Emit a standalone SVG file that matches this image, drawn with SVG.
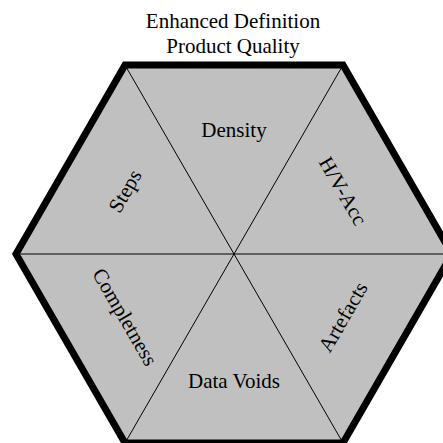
<svg xmlns="http://www.w3.org/2000/svg" width="443" height="443" viewBox="0 0 443 443">
<style>
.t{font-family:"Liberation Serif","Times New Roman",serif;font-size:21px;fill:#000;text-anchor:middle}
.c{dominant-baseline:central}
.div{stroke:#000;stroke-width:1;fill:none}
</style>
<rect width="443" height="443" fill="#fff"/>
<g id="title">
<text class="t" x="233" y="28">Enhanced Definition</text>
<text class="t" x="233" y="53">Product Quality</text>
</g>
<g id="hexagon-fill">
<polygon points="125,65 343,65 452,254 343,443 125,443 16,254" fill="#C0C0C0"/>
</g>
<g id="connectors">
<line class="div" x1="16" y1="254" x2="452" y2="254"/>
<line class="div" x1="125" y1="65" x2="343" y2="443"/>
<line class="div" x1="343" y1="65" x2="125" y2="443"/>
</g>
<g id="hexagon-border">
<polygon points="125,65 343,65 452,254 343,443 125,443 16,254" fill="none" stroke="#000" stroke-width="7" stroke-linejoin="miter"/>
</g>
<g id="density"><text class="t c" x="234" y="130">Density</text></g>
<g id="hv-acc"><text class="t c" transform="translate(343,191) rotate(60)">H/V-Acc</text></g>
<g id="artefacts"><text class="t c" transform="translate(343,317) rotate(-60)">Artefacts</text></g>
<g id="data-voids"><text class="t c" x="234" y="381">Data Voids</text></g>
<g id="completness"><text class="t c" transform="translate(125,317) rotate(60)">Completness</text></g>
<g id="steps"><text class="t c" transform="translate(125,191) rotate(-60)">Steps</text></g>
</svg>
